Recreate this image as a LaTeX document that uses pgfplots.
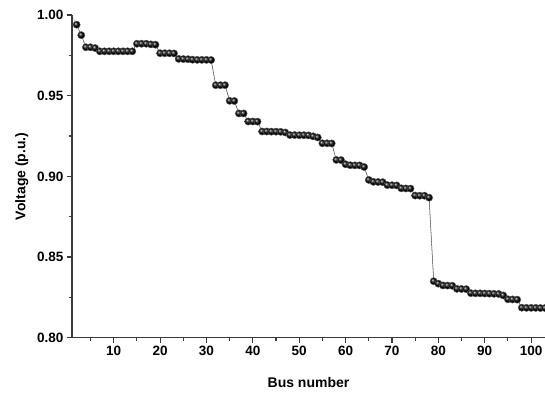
\documentclass[border=0pt]{standalone}
\usepackage{pgfplots}
\pgfplotsset{compat=1.18}
\usepackage{pgfplotstable}
\usepackage{fontspec}
\setmainfont{Liberation Sans}
\definecolor{axcol}{HTML}{3A3A3A}
\pgfplotstableread{
bus v
1 1.0000
2 0.9940
3 0.9875
4 0.9800
5 0.9800
6 0.9795
7 0.9775
8 0.9775
9 0.9775
10 0.9775
11 0.9775
12 0.9775
13 0.9775
14 0.9775
15 0.9822
16 0.9822
17 0.9822
18 0.9818
19 0.9816
20 0.9763
21 0.9763
22 0.9763
23 0.9762
24 0.9728
25 0.9727
26 0.9726
27 0.9723
28 0.9722
29 0.9722
30 0.9722
31 0.9721
32 0.9565
33 0.9565
34 0.9565
35 0.9468
36 0.9467
37 0.9390
38 0.9390
39 0.9340
40 0.9340
41 0.9339
42 0.9278
43 0.9278
44 0.9277
45 0.9277
46 0.9276
47 0.9272
48 0.9256
49 0.9256
50 0.9255
51 0.9255
52 0.9254
53 0.9248
54 0.9241
55 0.9205
56 0.9205
57 0.9204
58 0.9102
59 0.9101
60 0.9075
61 0.9069
62 0.9068
63 0.9068
64 0.9058
65 0.8978
66 0.8966
67 0.8965
68 0.8964
69 0.8946
70 0.8945
71 0.8944
72 0.8926
73 0.8925
74 0.8924
75 0.8881
76 0.8880
77 0.8880
78 0.8868
79 0.8350
80 0.8335
81 0.8324
82 0.8323
83 0.8322
84 0.8303
85 0.8302
86 0.8301
87 0.8276
88 0.8275
89 0.8275
90 0.8274
91 0.8273
92 0.8272
93 0.8271
94 0.8262
95 0.8238
96 0.8237
97 0.8236
98 0.8186
99 0.8185
100 0.8185
101 0.8185
102 0.8184
103 0.8184
}\datatable
\begin{document}
\begin{tikzpicture}
\path[use as bounding box] (-72pt,-54.3pt) rectangle (473pt,337.7pt);
\begin{axis}[
  at={(0,0)}, anchor=origin,
  scale only axis, width=473pt, height=322.7pt,
  xmin=1, xmax=103, ymin=0.80, ymax=1.00,
  axis lines=left,
  axis line style={axcol, line width=1.1pt, -},
  xtick={10,20,...,100}, minor xtick={5,15,...,105},
  ytick={0.80,0.85,...,1.00}, minor ytick={0.825,0.875,0.925,0.975},
  tick align=outside,
  major tick length=5pt, minor tick length=3pt,
  every tick/.style={axcol, line width=1.1pt},
  tick label style={font=\fontsize{13.5}{15}\selectfont\bfseries},
  /pgf/number format/assume math mode=true,
  yticklabel style={/pgf/number format/.cd, fixed, fixed zerofill, precision=2},
  xlabel={Bus number}, ylabel={Voltage (p.u.)},
  label style={font=\fontsize{14}{16}\selectfont\bfseries},
  xlabel style={at={(axis description cs:0.5,-0.14)}, anchor=center},
  ylabel style={at={(axis description cs:-0.106,0.5)}, anchor=center},
]
\addplot[gray!70!black, line width=0.5pt, densely dotted] table[x=bus,y=v] {\datatable};
\addplot[gray!70!black, line width=0.5pt, mark=ball, mark size=3.6pt,
  skip coords between index={0}{1},
  mark options={ball color=black, draw=none, solid}] table[x=bus,y=v] {\datatable};
\end{axis}
\end{tikzpicture}
\end{document}
